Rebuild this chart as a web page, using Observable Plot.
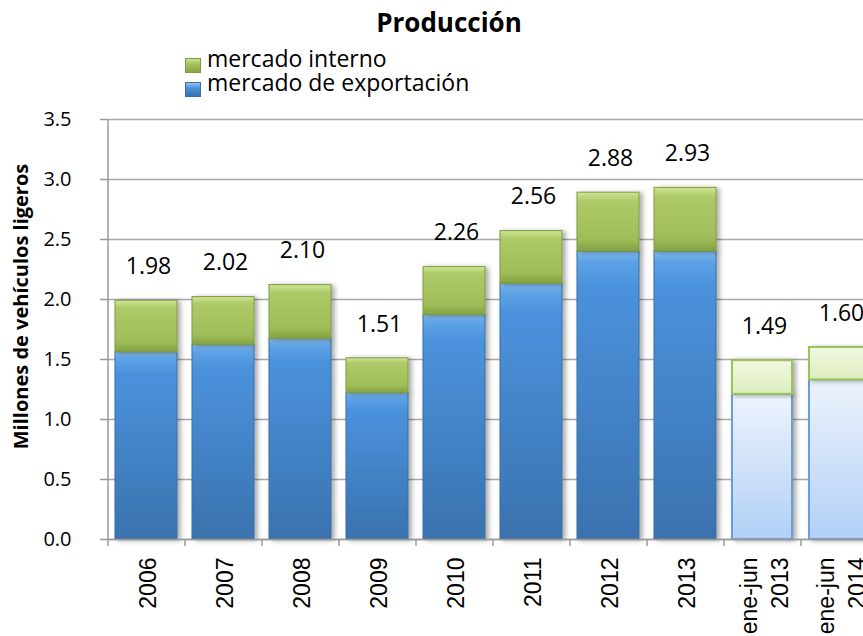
<!DOCTYPE html>
<html><head><meta charset="utf-8">
<script src="https://cdn.jsdelivr.net/npm/d3@7"></script>
<script src="https://cdn.jsdelivr.net/npm/@observablehq/plot@0.6"></script>
<style>
body{margin:0;background:#fff;font-family:"Open Sans",sans-serif;color:#000;}
#wrap{position:relative;width:863px;height:636px;overflow:hidden;}
#head{position:relative;height:105px;}
.title{position:absolute;left:449px;top:9px;transform:translateX(-50%);font-weight:700;font-size:26px;line-height:1;white-space:nowrap;}
.leg{position:absolute;left:207px;font-size:23px;line-height:1;white-space:nowrap;}
.sw{position:absolute;left:185px;width:16px;height:15px;box-sizing:border-box;}
#chart svg{display:block;}
</style></head>
<body><div id="wrap">
<div id="head">
  <div class="title">Producción</div>
  <div class="sw" style="top:58px;background:linear-gradient(#cbe390,#a3c35c 40%,#88a646);border:1px solid #7f9b40;"></div>
  <div class="leg" style="top:47px;">mercado interno</div>
  <div class="sw" style="top:82px;background:linear-gradient(#8cc2f3,#4a8fd8 40%,#3a72b0);border:1px solid #3a6ea5;"></div>
  <div class="leg" style="top:71px;">mercado de exportación</div>
</div>
<div id="chart"></div>
</div>
<script>
const categories = ["2006","2007","2008","2009","2010","2011","2012","2013","ene-jun\n2013","ene-jun\n2014"];
const exportacion = [1.56, 1.62, 1.67, 1.22, 1.87, 2.13, 2.40, 2.40, 1.21, 1.33];
const interno     = [0.43, 0.40, 0.45, 0.29, 0.40, 0.44, 0.49, 0.53, 0.28, 0.27];
const totales     = [1.98, 2.02, 2.10, 1.51, 2.26, 2.56, 2.88, 2.93, 1.49, 1.60];
const parcial     = [false,false,false,false,false,false,false,false,true,true];
const yTicks = [0, 0.5, 1.0, 1.5, 2.0, 2.5, 3.0, 3.5];
const yTitle = "Millones de vehículos ligeros";

const rows = categories.map((c, i) => ({cat: c, exp: exportacion[i], int: interno[i], total: totales[i], partial: parcial[i]}));

const xRange = [107, 877];
const step = (xRange[1] - xRange[0]) / categories.length;
const gray = "#9a9a9a";

function defs() {
  const g = document.createElementNS("http://www.w3.org/2000/svg", "g");
  g.innerHTML = `<defs>
    <linearGradient id="gBlue" x1="0" y1="0" x2="0" y2="1">
      <stop offset="0" stop-color="#86bdf2"/><stop offset="0.035" stop-color="#5ea3e6"/>
      <stop offset="0.12" stop-color="#4b92dc"/><stop offset="1" stop-color="#3a72ae"/>
    </linearGradient>
    <linearGradient id="gGreen" x1="0" y1="0" x2="0" y2="1">
      <stop offset="0" stop-color="#cfe696"/><stop offset="0.15" stop-color="#aeca68"/>
      <stop offset="0.8" stop-color="#9fbd58"/><stop offset="1" stop-color="#84a143"/>
    </linearGradient>
    <linearGradient id="gBlueL" x1="0" y1="0" x2="0" y2="1">
      <stop offset="0" stop-color="#edf3fd"/><stop offset="1" stop-color="#b2d0f6"/>
    </linearGradient>
    <linearGradient id="gGreenL" x1="0" y1="0" x2="0" y2="1">
      <stop offset="0" stop-color="#f0f8e0"/><stop offset="1" stop-color="#ddeec0"/>
    </linearGradient>
    <filter id="shadow" x="-20%" y="-5%" width="150%" height="115%">
      <feDropShadow dx="3" dy="1" stdDeviation="2.5" flood-color="#000" flood-opacity="0.35"/>
    </filter>
  </defs>`;
  return g;
}

const chart = Plot.plot({
  width: 863,
  height: 531,
  marginTop: 14,
  marginBottom: 97,
  marginLeft: 107,
  marginRight: 0,
  style: {fontFamily: "Open Sans", fontSize: "20px", color: "#000", background: "#fff"},
  x: {type: "band", domain: categories, range: xRange, paddingInner: 0.2, paddingOuter: 0.1, label: null},
  y: {domain: [0, 3.5], label: null},
  marks: [
    defs,
    Plot.gridY(yTicks, {stroke: "#a8a8a8", strokeOpacity: 1, strokeWidth: 1.5}),
    Plot.barY(rows, {filter: d => !d.partial, x: "cat", y1: 0, y2: "exp", fill: "url(#gBlue)", stroke: "#3a6ea5", strokeWidth: 1}),
    Plot.barY(rows, {filter: d => !d.partial, x: "cat", y1: "exp", y2: d => d.exp + d.int, fill: "url(#gGreen)", stroke: "#7f9b40", strokeWidth: 1}),
    Plot.barY(rows, {filter: d => d.partial, x: "cat", y1: 0, y2: "exp", fill: "url(#gBlueL)", stroke: "#6a9edb", strokeWidth: 2, insetLeft: 1, insetRight: 1}),
    Plot.barY(rows, {filter: d => d.partial, x: "cat", y1: "exp", y2: d => d.exp + d.int, fill: "url(#gGreenL)", stroke: "#9cc35a", strokeWidth: 2, insetLeft: 1, insetRight: 1}),
    Plot.ruleX([categories[0]], {dx: -step / 2, stroke: gray, strokeWidth: 1.5}),
    Plot.ruleY([0], {stroke: gray, strokeWidth: 1.5}),
    Plot.axisX({label: null, tickSize: 7, dx: -step / 2, tickFormat: () => "", stroke: gray, strokeWidth: 1.5}),
    Plot.axisX({label: null, tickSize: 0, tickPadding: 18, tickRotate: -90, fontFamily: "Liberation Sans", fontSize: 23, lineHeight: 1.35, fill: "#000"}),
    Plot.axisY(yTicks, {label: null, tickSize: 7, tickPadding: 29, tickFormat: d3.format(".1f"), stroke: gray, strokeWidth: 1.5, fontSize: 20, fill: "#000"}),
    Plot.text(rows, {x: "cat", y: d => d.exp + d.int, text: d => d3.format(".2f")(d.total), dy: -34, dx: 2, fontSize: 23, fill: "#000"}),
    Plot.text([yTitle], {frameAnchor: "left", rotate: -90, dx: -86, dy: -23, fontWeight: "bold", fontSize: 20, textAnchor: "middle", fill: "#000"})
  ]
});
d3.select(chart).selectAll('g[aria-label="bar"]').attr("filter", "url(#shadow)");
document.getElementById("chart").appendChild(chart);
</script>
</body></html>
